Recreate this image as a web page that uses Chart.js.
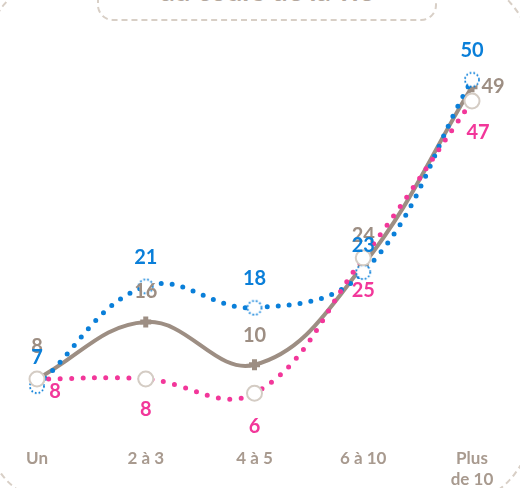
<!DOCTYPE html>
<html lang="fr">
<head>
<meta charset="utf-8">
<script src="https://cdn.jsdelivr.net/npm/chart.js@4.4.1/dist/chart.umd.min.js"></script>
<style>
    html, body { margin: 0; padding: 0; background: #fff; overflow: hidden; }
    #wrap { position: relative; width: 520px; height: 488px; overflow: hidden; }
    #frame {
        position: absolute; left: -16px; top: -24px; width: 548px; height: 530px;
        border: 2px dashed #d8cfc6; border-radius: 80px; box-sizing: border-box;
    }
    #titlebox {
        position: absolute; left: 97px; top: -30px; width: 340px; height: 51px;
        border: 2px dashed #d8cfc6; border-radius: 16px; box-sizing: border-box;
        text-align: center; font: bold 28px Lato, sans-serif; color: #b3a79d;
        line-height: 28px; padding-top: 4px;
    }
    #chart-holder { position: absolute; left: 0; top: 0; width: 520px; height: 488px; }
</style>
</head>
<body>
<div id="wrap">
    <div id="frame"></div>
    <div id="titlebox">au cours de la vie</div>
    <div id="chart-holder"><canvas id="lignesChart"></canvas></div>
</div>
<script>
const categories = ['Un', '2 à 3', '4 à 5', '6 à 10', ['Plus', 'de 10']];
const seriesBleue = [7, 21, 18, 23, 50];
const seriesGrise = [8, 16, 10, 24, 49];
const seriesRose = [8, 8, 6, 25, 47];

const BLUE = '#0a7fd9';
const GREY = '#9d8e83';
const PINK = '#f2379a';

// marqueur cercle en pointillé (bleu)
function dottedCircle(color) {
    const c = document.createElement('canvas');
    c.width = 20; c.height = 20;
    const g = c.getContext('2d');
    g.beginPath();
    g.arc(10, 10, 7, 0, Math.PI * 2);
    g.fillStyle = '#ffffff';
    g.fill();
    g.setLineDash([1.7, 2.1]);
    g.lineWidth = 1.8;
    g.strokeStyle = color;
    g.stroke();
    return c;
}

// décalages des étiquettes [dx, dy] par point
const labelOffsets = {
    bleu: [[0, -29], [0, -29], [0, -29], [0, -27], [0, -29]],
    gris: [[0, -32], [0, -30], [0, -29], [0, -29], [21, 0]],
    rose: [[18, 13], [0, 31], [0, 33], [0, 33], [6, 32]]
};

const valueLabels = {
    id: 'valueLabels',
    afterDatasetsDraw(chart) {
        const ctx = chart.ctx;
        ctx.save();
        ctx.font = 'bold 20px Lato, sans-serif';
        ctx.textAlign = 'center';
        ctx.textBaseline = 'middle';
        // ordre de dessin : gris, bleu, rose
        [2, 1, 0].forEach(i => {
            const ds = chart.data.datasets[i];
            const meta = chart.getDatasetMeta(i);
            meta.data.forEach((pt, j) => {
                const off = labelOffsets[ds.key][j];
                ctx.fillStyle = ds.labelColor;
                ctx.fillText(ds.data[j], pt.x + off[0], pt.y + off[1]);
            });
        });
        ctx.restore();
    }
};

const ctx = document.getElementById('lignesChart').getContext('2d');
new Chart(ctx, {
    type: 'line',
    data: {
        labels: categories,
        datasets: [
            {
                key: 'rose',
                label: 'Rose',
                data: seriesRose,
                labelColor: PINK,
                borderColor: PINK,
                borderWidth: 5,
                borderDash: [0, 11.5],
                borderCapStyle: 'round',
                tension: 0.4,
                pointStyle: 'circle',
                pointRadius: 7.5,
                pointBackgroundColor: '#ffffff',
                pointBorderColor: '#d4ccc4',
                pointBorderWidth: 2,
                clip: false
            },
            {
                key: 'bleu',
                label: 'Bleu',
                data: seriesBleue,
                labelColor: BLUE,
                borderColor: BLUE,
                borderWidth: 5,
                borderDash: [0, 11],
                borderCapStyle: 'round',
                tension: 0.4,
                pointStyle: dottedCircle(BLUE),
                pointRadius: 8,
                clip: false
            },
            {
                key: 'gris',
                label: 'Gris',
                data: seriesGrise,
                labelColor: GREY,
                borderColor: GREY,
                borderWidth: 4,
                tension: 0.4,
                pointStyle: 'cross',
                pointRadius: 5.5,
                pointBorderWidth: 5,
                pointBorderColor: GREY,
                pointBackgroundColor: GREY,
                clip: false
            }
        ]
    },
    options: {
        responsive: true,
        maintainAspectRatio: false,
        animation: false,
        layout: { padding: { left: 37, right: 48, top: 44, bottom: 0 } },
        plugins: {
            legend: { display: false },
            tooltip: { enabled: false }
        },
        scales: {
            x: {
                offset: false,
                grid: { display: false, drawTicks: false },
                border: { display: false },
                ticks: {
                    color: '#a89a8f',
                    font: { family: 'Lato', size: 17, weight: 'bold', lineHeight: 1.25 },
                    padding: 12,
                    maxRotation: 0,
                    autoSkip: false
                },
                afterFit: function(axis) { axis.height = 52; }
            },
            y: {
                display: false,
                min: 0,
                max: 55
            }
        }
    },
    plugins: [valueLabels]
});
</script>
</body>
</html>
